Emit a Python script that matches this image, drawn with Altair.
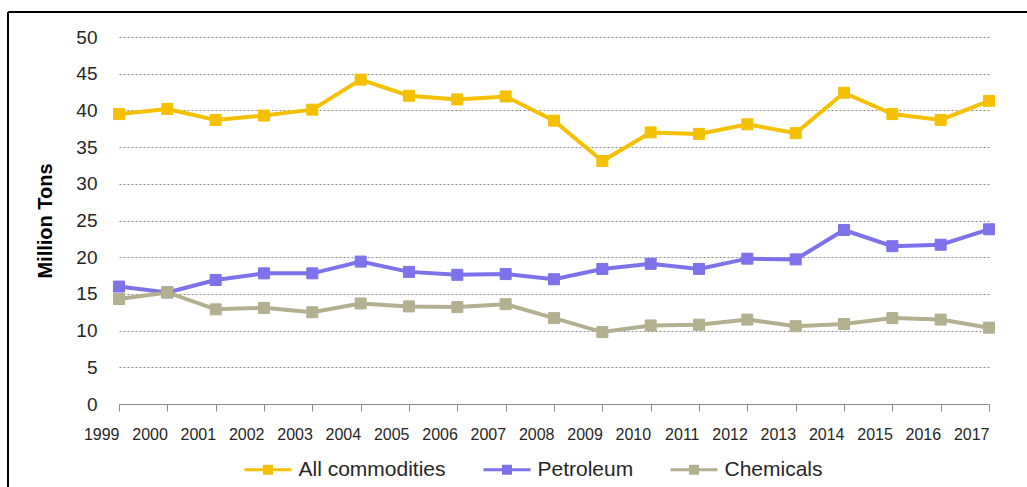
import altair as alt
import pandas as pd

years = list(range(1999, 2018))
all_commodities = [39.5, 40.2, 38.7, 39.3, 40.1, 44.2, 42.0, 41.5, 41.9, 38.6,
                   33.1, 37.0, 36.8, 38.1, 36.9, 42.4, 39.5, 38.7, 41.3]
petroleum = [16.0, 15.2, 16.9, 17.8, 17.8, 19.4, 18.0, 17.6, 17.7, 17.0,
             18.4, 19.1, 18.4, 19.8, 19.7, 23.7, 21.5, 21.7, 23.8]
chemicals = [14.3, 15.2, 12.9, 13.1, 12.5, 13.7, 13.3, 13.2, 13.6, 11.7,
             9.8, 10.7, 10.8, 11.5, 10.6, 10.9, 11.7, 11.5, 10.4]
series_names = ["All commodities", "Petroleum", "Chemicals"]
series_colors = ["#F5C000", "#7D72E9", "#B3B08F"]

rows = []
for name, vals in zip(series_names, [all_commodities, petroleum, chemicals]):
    for y, v in zip(years, vals):
        rows.append({"Year": y, "Value": v, "Series": name})
df = pd.DataFrame(rows)

FONT = "Liberation Sans"
W, H = 870, 367
PAD_L, PAD_T = 119, 37

color_scale = alt.Scale(domain=series_names, range=series_colors)

x_enc = alt.X("Year:Q",
              scale=alt.Scale(domain=[1999, 2017], nice=False, zero=False),
              axis=alt.Axis(values=years, format="d", title=None, grid=False,
                            domainColor="#8c8c8c", tickColor="#8c8c8c", tickSize=7,
                            labelAlign="right", labelPadding=15,
                            labelFontSize=16, labelColor="#262626", labelFont=FONT,
                            labelFlush=False, labelOverlap=False))
y_enc = alt.Y("Value:Q",
              scale=alt.Scale(domain=[0, 50], nice=False),
              axis=alt.Axis(values=list(range(0, 55, 5)), title="Million Tons",
                            titleFont=FONT, titleFontSize=20, titleFontWeight="bold",
                            titleColor="#000000", titlePadding=20,
                            labelFont=FONT, labelFontSize=19, labelColor="#262626",
                            labelPadding=22, ticks=False, domain=False,
                            labelOverlap=False,
                            grid=True, gridColor="#8a8a8a", gridDash=[2, 2],
                            gridWidth=1))

legend_path = "M-4.7,0H-0.7M0.7,0H4.7M-0.7,-0.7H0.7V0.7H-0.7Z"
legend = alt.Legend(title=None, orient="none", legendX=138.5, legendY=422,
                    direction="horizontal", symbolType=legend_path, symbolSize=100,
                    symbolStrokeWidth=3, labelFont=FONT, labelFontSize=21,
                    labelColor="#262626", labelOffset=20, columnPadding=31,
                    padding=0)

base = alt.Chart(df).encode(x=x_enc, y=y_enc)

lines = base.mark_line(strokeWidth=4).encode(
    color=alt.Color("Series:N", scale=color_scale, legend=legend),
    detail="Series:N",
)

points = base.mark_point(shape="square", filled=True, size=121,
                         strokeWidth=1, opacity=1).encode(
    fill=alt.Fill("Series:N", scale=color_scale, legend=legend),
    stroke=alt.Stroke("Series:N", scale=color_scale, legend=legend),
)

border_top = alt.Chart(df).mark_rule(color="#000000", strokeWidth=2).encode(
    x=alt.value(-111), x2=alt.value(1027 - PAD_L), y=alt.value(-25))
border_left = alt.Chart(df).mark_rule(color="#000000", strokeWidth=2).encode(
    x=alt.value(-111), y=alt.value(-25), y2=alt.value(487 - PAD_T))

chart = alt.layer(lines, points, border_top, border_left).properties(
    width=W, height=H,
    autosize=alt.AutoSizeParams(type="none"),
    padding={"left": PAD_L, "top": PAD_T, "right": 1027 - PAD_L - W, "bottom": 487 - PAD_T - H},
    background="#ffffff",
).configure_view(stroke=None)

chart.save("out.html", embed_options={"renderer": "svg", "actions": False})
